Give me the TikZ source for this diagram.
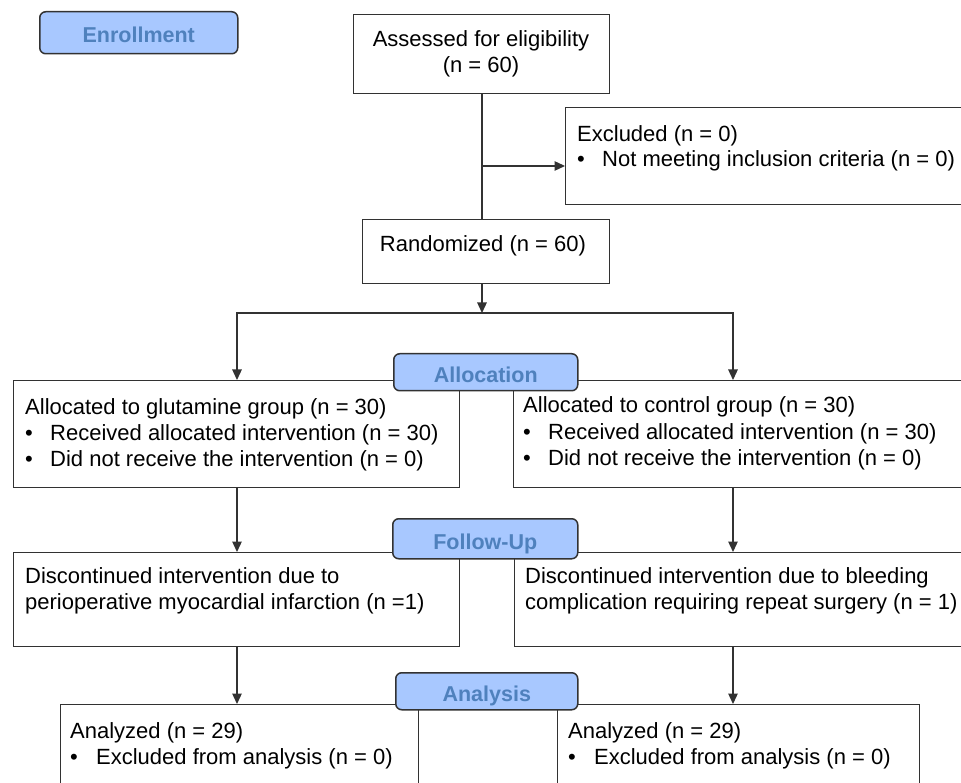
\documentclass[tikz,border=0pt]{standalone}
\usepackage{fontspec}
\setmainfont{Liberation Sans}
\usetikzlibrary{arrows.meta,calc}
\definecolor{labfill}{RGB}{168,200,255}
\definecolor{labtext}{RGB}{79,129,189}
\definecolor{edge}{RGB}{50,50,50}
\begin{document}
\begin{tikzpicture}[x=1pt,y=-1pt,
 box/.style={draw=edge, line width=1.3pt, fill=white, inner sep=0pt, anchor=north west},
 lab/.style={draw=edge, line width=1.5pt, fill=labfill, rounded corners=6pt, inner sep=0pt, anchor=north west, text=labtext, text height=20.5pt, text depth=0pt, font=\fontsize{21.5}{26}\selectfont\bfseries},
 txt/.style={inner sep=0pt, anchor=base west, font=\fontsize{22}{26}\selectfont},
 ctxt/.style={txt, anchor=base},
 conn/.style={draw=edge, line width=1.3pt},
 arr/.style={conn, -{Triangle[length=10.5pt,width=9.5pt]}}]
\useasboundingbox (0,0) rectangle (961,783);
\clip (0,0) rectangle (961,783);
\fill[white] (0,0) rectangle (961,783);
% boxes
\node[box, minimum width=256pt, minimum height=79pt] (assess) at (353,14) {};
\node[box, minimum width=450pt, minimum height=97pt] (excl) at (565,107) {};
\node[box, minimum width=247pt, minimum height=64pt] (rand) at (362,219) {};
\node[box, minimum width=446pt, minimum height=107pt] (allocL) at (13,380) {};
\node[box, minimum width=500pt, minimum height=107pt] (allocR) at (513,380) {};
\node[box, minimum width=446pt, minimum height=94pt] (followL) at (13,552) {};
\node[box, minimum width=500pt, minimum height=94pt] (followR) at (514,552) {};
\node[box, minimum width=358pt, minimum height=120pt] (anaL) at (60,704) {};
\node[box, minimum width=362pt, minimum height=120pt] (anaR) at (557,704) {};
% texts
\node[ctxt] (t1) at (481,47) {Assessed for eligibility};
\node[ctxt] (t2) at (481,73) {(n = 60)};
\node[txt] (t3) at (577,142) {Excluded (n = 0)};
\node[txt] (t4) at (577,167) {\makebox[25pt][l]{\textbullet}Not meeting inclusion criteria (n = 0)};
\node[ctxt] (t5) at (483,252) {Randomized (n = 60)};
\node[txt] (t6) at (25,414) {Allocated to glutamine group (n = 30)};
\node[txt] (t7) at (25,440) {\makebox[25pt][l]{\textbullet}Received allocated intervention (n = 30)};
\node[txt] (t8) at (25,466) {\makebox[25pt][l]{\textbullet}Did not receive the intervention (n = 0)};
\node[txt] (t9) at (523,413) {Allocated to control group (n = 30)};
\node[txt] (t10) at (523,439) {\makebox[25pt][l]{\textbullet}Received allocated intervention (n = 30)};
\node[txt] (t11) at (523,465) {\makebox[25pt][l]{\textbullet}Did not receive the intervention (n = 0)};
\node[txt] (t12) at (25,583) {Discontinued intervention due to};
\node[txt] (t13) at (25,609) {perioperative myocardial infarction (n =1)};
\node[txt] (t14) at (525,583) {Discontinued intervention due to bleeding};
\node[txt] (t15) at (525,609) {complication requiring repeat surgery (n = 1)};
\node[txt] (t16) at (70,738) {Analyzed (n = 29)};
\node[txt] (t17) at (70,764) {\makebox[26pt][l]{\textbullet}Excluded from analysis (n = 0)};
\node[txt] (t18) at (568,738) {Analyzed (n = 29)};
\node[txt] (t19) at (568,764) {\makebox[26pt][l]{\textbullet}Excluded from analysis (n = 0)};
% connectors
\coordinate (colL) at (237,0);
\coordinate (colR) at (733,0);
\coordinate (colM) at (482,0);
\coordinate (exj) at (482,166);
\coordinate (split) at (482,313);
\draw[conn] (assess.south -| colM) -- (rand.north -| colM);
\draw[arr] (exj) -- (exj -| excl.west);
\draw[arr] (rand.south -| colM) -- (split);
\draw[arr] (split) -| (allocL.north -| colL);
\draw[arr] (split) -| (allocR.north -| colR);
\draw[arr] (allocL.south -| colL) -- (followL.north -| colL);
\draw[arr] (allocR.south -| colR) -- (followR.north -| colR);
\draw[arr] (followL.south -| colL) -- (anaL.north -| colL);
\draw[arr] (followR.south -| colR) -- (anaR.north -| colR);
% stage labels
\node[lab, minimum width=198pt, minimum height=42pt] (enr) at (39,11) {Enrollment};
\node[lab, minimum width=184pt, minimum height=37pt] (allocLab) at (393,353) {Allocation};
\node[lab, minimum width=185pt, minimum height=40pt] (folLab) at (392,518) {Follow-Up};
\node[lab, minimum width=182pt, minimum height=37pt] (anaLab) at (395,672) {Analysis};
\end{tikzpicture}
\end{document}
